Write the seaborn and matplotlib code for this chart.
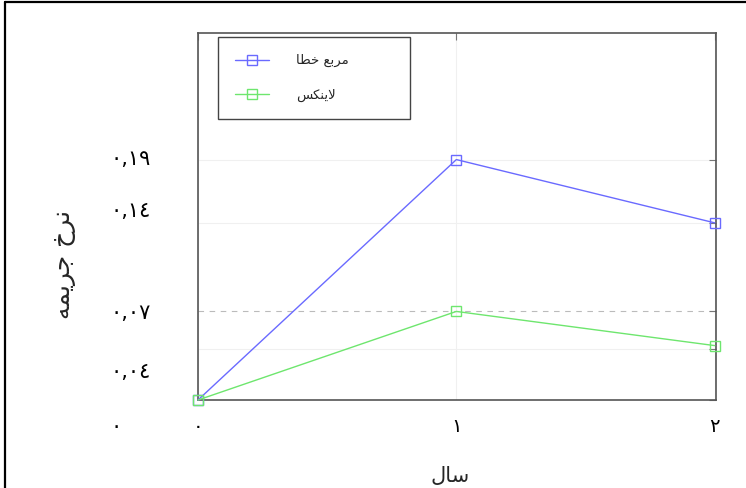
from matplotlib import pyplot as plt
from matplotlib.lines import Line2D
from matplotlib.transforms import ScaledTranslation
import seaborn as sns

# data
years = [0, 1, 2]
squared_error = [0.0, 0.19, 0.14]
linex = [0.0, 0.07, 0.043]
y_ticks = [0.0, 0.04, 0.07, 0.14, 0.19]

# Persian text written in visual order with presentation forms (matplotlib does no shaping)
y_tick_labels = ['\u0660', '\u0660,\u0660\u0664', '\u0660,\u0660\u0667', '\u0660,\u0661\u0664', '\u0660,\u0661\u0669']
x_tick_labels = ['\u0660', '\u0661', '\u0662']
label_sq = '\uFE8E\uFEC4\uFEA7 \uFECA\uFE91\uFEAE\uFEE3'      # مربع خطا
label_linex = '\uFEB2\uFB91\uFEE8\uFEF3\uFEFB'                 # لاینکس
x_title = '\uFEDD\uFE8E\uFEB3'                                  # سال
y_title = '\uFEEA\uFEE4\uFEF3\uFEAE\uFE9F \uFEA5\uFEAE\uFEE7'  # نرخ جریمه

sns.set_theme(style='white')
plt.rcParams['font.family'] = ['DejaVu Sans']

fig = plt.figure(figsize=(7.46, 4.88), dpi=100)
ax = fig.add_axes([0.2654, 0.1803, 0.6944, 0.752])

colors = ['#6a6aff', '#6ee66e']
for vals, lab, c in zip([squared_error, linex], [label_sq, label_linex], colors):
    sns.lineplot(x=years, y=vals, ax=ax, color=c, linewidth=1, marker='s', markersize=7,
                 markerfacecolor='none', markeredgecolor=c, markeredgewidth=1, label=lab,
                 clip_on=False, zorder=3)

ax.set_xlim(0, 2.005)
ax.set_ylim(0, 0.29)
ax.set_xticks(years)
ax.set_xticklabels(x_tick_labels, fontsize=14)
ax.set_yticks(y_ticks)
ax.set_yticklabels(y_tick_labels, fontsize=15, ha='left')
ax.tick_params(axis='both', direction='in', length=5, width=0.8, color='#777777',
               top=True, right=True, labelcolor='black')
ax.tick_params(axis='y', pad=63)
ax.tick_params(axis='x', pad=12)

# nudge y tick labels like the original
offsets = [-18, -15, 0, 10, 1.5]
for lbl, dy in zip(ax.get_yticklabels(), offsets):
    lbl.set_transform(lbl.get_transform() + ScaledTranslation(0, dy / 72, fig.dpi_scale_trans))

ax.grid(True, color='#f0f0f0', linewidth=0.8)
ax.yaxis.get_gridlines()[2].set_linestyle((0, (5, 5)))
ax.yaxis.get_gridlines()[2].set_color('#bbbbbb')
ax.yaxis.get_gridlines()[0].set_visible(False)

for s in ax.spines.values():
    s.set_color('#555555')
    s.set_linewidth(1.2)

ax.set_xlabel(x_title, fontsize=15)
ax.set_ylabel(y_title, fontsize=18)
ax.xaxis.set_label_coords(0.486, -0.18)
ax.yaxis.set_label_coords(-0.235, 0.37)

leg = ax.legend(loc='upper left', bbox_to_anchor=(0.0386, 0.989 - 0.218, 0.3707, 0.218),
                mode='expand', borderaxespad=0, fontsize=9.5, handlelength=2.6,
                handletextpad=2.0, labelspacing=1.6, borderpad=1.3, fancybox=False,
                framealpha=1, edgecolor='#444444')
leg.get_frame().set_linewidth(1.0)

# border of the original screenshot (left and top only)
fig.add_artist(Line2D([0.007, 0.007], [0, 0.996], transform=fig.transFigure, color='black', lw=1.6))
fig.add_artist(Line2D([0.007, 1.0], [0.996, 0.996], transform=fig.transFigure, color='black', lw=1.6))

fig.savefig('out.png', dpi=100)
